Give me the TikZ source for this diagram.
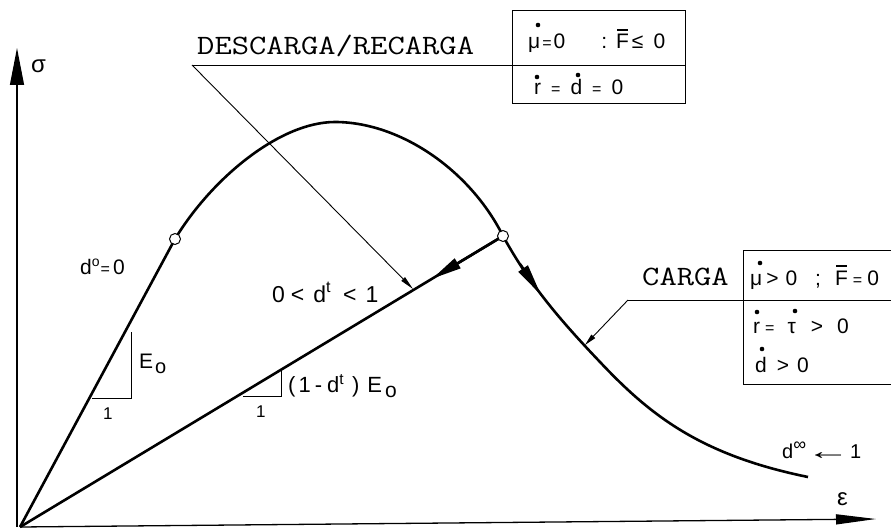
\documentclass[tikz,border=0pt]{standalone}
\usepackage{fontspec}
\setmainfont{Liberation Sans}
\usepackage{graphicx}
\usetikzlibrary{arrows.meta,calc}
\newcommand\Fbar{{\ooalign{F\cr\hidewidth\raisebox{0.85em}{\rule{0.5em}{0.08em}}\hidewidth\cr}}}
\newcommand\smeq{{\fontsize{16}{16}\selectfont=}}
\newcommand\fs[1]{\fontsize{#1}{#1}\selectfont}
\begin{document}
\begin{tikzpicture}[x=1pt,y=-1pt,
  lbl/.style={inner sep=0pt, anchor=base west},
  curve/.style={line width=2.6pt, line join=round},
  axis/.style={line width=1.3pt},
  leader/.style={line width=0.9pt},
  slope/.style={line width=0.9pt},
  dotmark/.style={fill=black},
  circ/.style={circle, draw, line width=1pt, fill=white, minimum size=11pt, inner sep=0pt},
  mono/.style={inner sep=0pt, anchor=base west, font=\fs{28}\ttfamily}]
\useasboundingbox (0,0) rectangle (891,532);
\coordinate (O) at (20,527);
\coordinate (Yb) at (17,527);
\coordinate (Yt) at (17,48);
\coordinate (Xt) at (876,519);
\coordinate (c1) at (175,239);
\coordinate (c2) at (503,236);
% axes
\draw[axis, -{Triangle[length=37pt,width=14pt]}] (Yb) -- (Yt);
\draw[axis, -{Triangle[length=40pt,width=10pt]}] (O) -- (Xt);
% elastic and unloading lines
\draw[curve] (O) -- (c1);
\draw[curve] (c2) -- (O);
\draw[curve, -{Triangle[length=30pt,width=11pt]}] (c2) -- ($(c2)!0.147!(O)$);
% softening curve
\draw[curve] (c1) .. controls (212,178) and (280,122) .. (335,122)
  .. controls (400,122) and (470,170) .. (c2)
  .. controls (530,285) and (560,320) .. (600,362)
  .. controls (650,415) and (700,455) .. (808,477);
\coordinate (ca1) at (520,264);
\coordinate (ca2) at (541,295);
\draw[curve, -{Triangle[length=32pt,width=11pt]}] (ca1) -- (ca2);
\node[circ] (C1) at (c1) {};
\node[circ] (C2) at (c2) {};
% slope triangles
\draw[slope] (92,398) -- (131,398) -- (131,332);
\draw[slope] (243,396) -- (281,396) -- (281,371);
% top box and leader
\coordinate (L1) at (192,65);
\coordinate (L1t) at (413,289);
\draw[leader] (512,10) rectangle (685,103);
\draw[leader] (685,65) -- (L1);
\draw[leader, -{Triangle[length=14pt,width=5pt]}] (L1) -- (L1t);
% CARGA box and leader
\draw[leader] (891,250) -- (743,250) -- (743,384) -- (891,384);
\coordinate (L2) at (628,300);
\coordinate (L2t) at (585,345);
\draw[leader] (891,300) -- (L2);
\draw[leader, -{Triangle[length=12pt,width=5pt]}] (L2) -- (L2t);
% texts
\node[mono] (tDR) at (197,55) {\scalebox{1.2}[1]{DESCARGA/RECARGA}};
\node[mono] (tC) at (642,285) {\scalebox{1.2}[1]{CARGA}};
\node[lbl, font=\fs{21}] (b1) at (528,49) {μ\kern2pt\smeq\kern2pt0\hspace{36pt}:\hspace{9pt}\Fbar\kern3pt≤\kern10pt0};
\node[lbl, font=\fs{21}] (b2) at (534,95) {r\kern10pt\smeq\kern10pt d\kern10pt\smeq\kern10pt0};
\node[lbl, font=\fs{21}] (c1t) at (750,285) {μ\kern4pt>\kern7pt0\hspace{18pt};\hspace{14pt}\Fbar\kern5pt\smeq\kern5pt0};
\node[lbl, font=\fs{21}] (c2t) at (753,333) {r\kern5pt\smeq\kern13pt τ\kern15pt>\kern14pt0};
\node[lbl, font=\fs{21}] (c3t) at (755,372) {d\kern10pt>\kern8pt0};
% time-derivative dots
\fill[dotmark] (538,25) circle (2.3pt);
\fill[dotmark] (537,77) circle (2.3pt);
\fill[dotmark] (578,75) circle (2.3pt);
\fill[dotmark] (760,263) circle (2.3pt);
\fill[dotmark] (757,312) circle (2.3pt);
\fill[dotmark] (795,311) circle (2.3pt);
\fill[dotmark] (762,349) circle (2.3pt);
\node[lbl, font=\fs{23}] (tdt) at (272,302) {0\kern6pt<\kern9pt d\textsuperscript{t}\kern12pt<\kern9pt1};
\node[lbl, font=\fs{22}] (tE2) at (288,392) {(\kern3pt1\kern4pt-\kern5pt d\textsuperscript{t}\kern8pt)\kern8pt E\kern3pt\raisebox{-5pt}{\fs{21}o}};
\node[lbl, font=\fs{21}] (tE1) at (139,368) {E\kern2pt\raisebox{-5pt}{\fs{20}o}};
\node[lbl, font=\fs{17}] (one1) at (103,419) {1};
\node[lbl, font=\fs{17}] (one2) at (256,417) {1};
\node[lbl, font=\fs{21}] (td0) at (80,274) {d\raisebox{8pt}{\fs{14}o}\kern1pt\smeq\kern3pt0};
\node[lbl, font=\fs{20}] (tdinf) at (782,458) {d\raisebox{8pt}{\fs{18}∞}\raisebox{-1pt}{\scalebox{2.2}[1.2]{←}}1};
\node[lbl, font=\fs{24}] (teps) at (837,505) {ε};
\node[lbl, font=\fs{24}] (tsig) at (31,73) {σ};
\end{tikzpicture}
\end{document}
